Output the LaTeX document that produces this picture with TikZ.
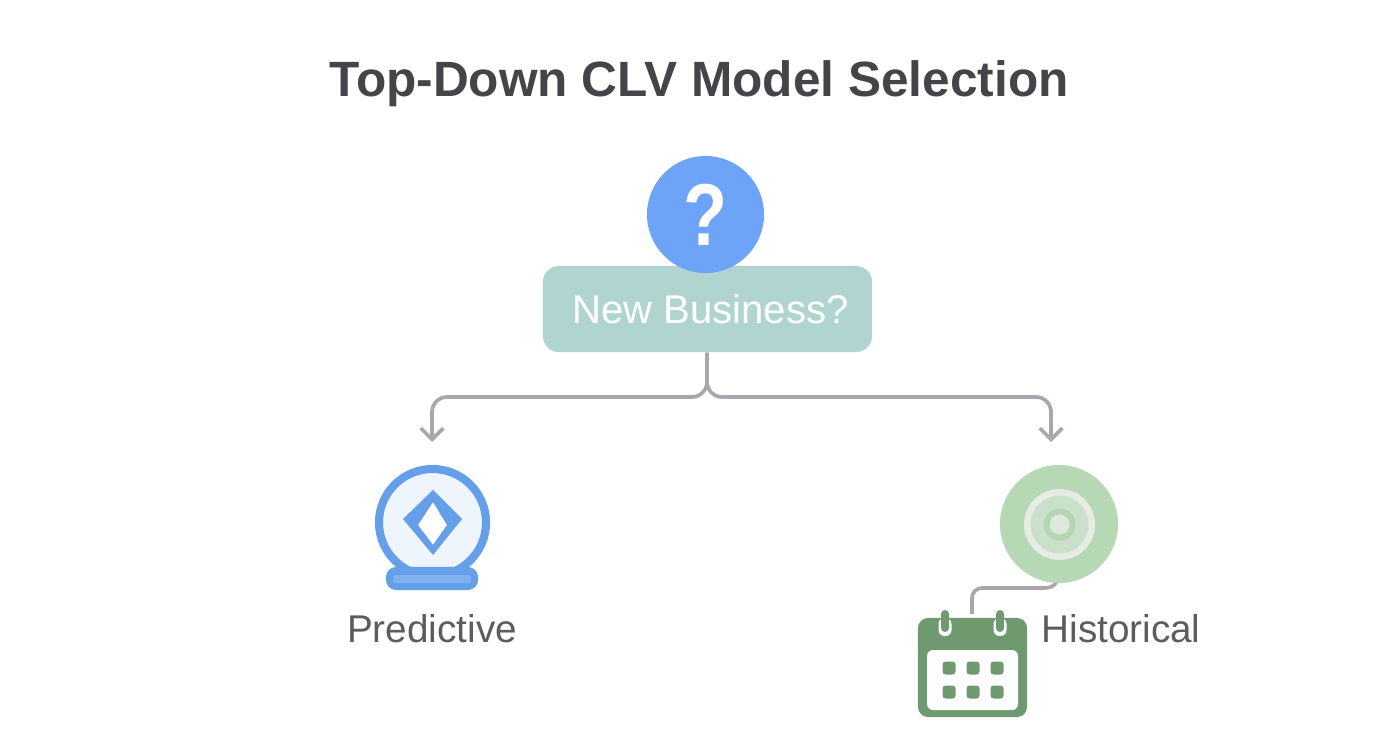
\documentclass[tikz,border=0pt]{standalone}
\usepackage{fontspec}
\setmainfont{Liberation Sans}
\usetikzlibrary{arrows.meta}
\definecolor{bluefill}{HTML}{6EA4F7}
\definecolor{blueicon}{HTML}{659FEA}
\definecolor{bluestrip}{HTML}{7FB0F0}
\definecolor{bluepale}{HTML}{EEF5FC}
\definecolor{tealbox}{HTML}{B0D4CF}
\definecolor{linegray}{HTML}{A9A6AE}
\definecolor{titlegray}{HTML}{434548}
\definecolor{labelgray}{HTML}{5F5A5B}
\definecolor{greendisc}{HTML}{B7D8B5}
\definecolor{greendark}{HTML}{6F9A70}
\definecolor{greenrim}{HTML}{E4ECE3}
\definecolor{greenface}{HTML}{CBE0CA}
\definecolor{greenhub}{HTML}{B5D4B3}
\definecolor{greeneye}{HTML}{DDE8DE}
\tikzset{
  branch/.style={linegray, line width=1.05pt, rounded corners=1.5mm},
  branchtip/.style={branch, -{Straight Barb[length=3.2pt,width=6.4pt,line width=1.05pt]}},
  dayspot/.style={fill=greendark, rounded corners=0.3mm},
  modellabel/.style={text=labelgray, font=\fontsize{11}{12}\selectfont}
}
\begin{document}
\begin{tikzpicture}[x=0.01cm,y=-0.01cm]
\useasboundingbox (0,0) rectangle (1392,752);
\node[text=titlegray, font=\fontsize{14.1}{18}\selectfont\bfseries] (title) at (699,84) {Top-Down CLV Model Selection};

% question
\node[fill=tealbox, rounded corners=1.6mm, minimum width=3.29cm, minimum height=0.86cm, inner sep=0pt, text=white, font=\fontsize{11.4}{14}\selectfont] (newbiz) at (707.5,309) {\kern0.6mm New Business?};
\node[circle, fill=bluefill, minimum size=1.17cm, inner sep=0pt, text=white, font=\fontsize{25}{28}\selectfont\bfseries] (quest) at (705.5,214.5) {\scalebox{0.82}[1]{?}};

% branches
\coordinate (forkl) at (707,397);
\coordinate (forkc) at (432,397);
\coordinate (endl) at (432,442);
\coordinate (forkd) at (1051,397);
\coordinate (endr) at (1051,442);
\draw[branchtip] (newbiz.south -| forkl) -- (forkl) -- (forkc) -- (endl);
\draw[branchtip] (newbiz.south -| forkl) -- (forkl) -- (forkd) -- (endr);

% predictive icon
\node[circle, draw=blueicon, fill=bluepale, line width=2.3pt, minimum size=1.07cm, inner sep=0pt] (globe) at (432.5,522.5) {};
\fill[blueicon, even odd rule] (433,490) -- (462,519) -- (433,555) -- (403,519) -- cycle
  (433,502) -- (447,525) -- (433,545) -- (418,525) -- cycle;
\fill[white] (433,503) -- (446.5,525) -- (433,544) -- (418.5,525) -- cycle;
\node[fill=blueicon, rounded corners=1mm, minimum width=0.92cm, minimum height=0.23cm, inner sep=0pt] (stand) at (432,578.5) {};
\fill[bluestrip, rounded corners=0.2mm] (393,575) rectangle (471,583);
\node[modellabel] (predictive) at (432,629) {Predictive};

% historical icon
\coordinate (tap) at (1057,581);
\coordinate (bend) at (972,588);
\coordinate (drop) at (972,614);
\draw[linegray, line width=1.05pt] (tap) .. controls (1054,587) and (1050,588) .. (1042,588) [rounded corners=1mm] -- (bend) -- (drop);
\node[circle, fill=greendisc, minimum size=1.18cm, inner sep=0pt] (disc) at (1059,524) {};
\fill[greenrim] (1059.5,524.5) circle (35.5);
\fill[greenface] (1059.5,524.5) circle (29);
\fill[greenhub] (1059.5,524.5) circle (16);
\fill[greeneye] (1059.5,524.5) circle (10);
\node[fill=greendark, rounded corners=1mm, minimum width=1.09cm, minimum height=0.99cm, inner sep=0pt] (calendar) at (972.5,667.5) {};
\fill[white, rounded corners=0.6mm] (927,650) rectangle (1018,710);
\foreach \x in {945,1000} {
  \fill[white, rounded corners=0.6mm] (\x-6.5,618) rectangle (\x+6.5,636);
  \fill[greendark, rounded corners=0.4mm] (\x-4,610) rectangle (\x+4,632);
}
\foreach \x in {949,973,997}
  \foreach \y in {668,692}
    \fill[dayspot] (\x-6.5,\y-6.5) rectangle (\x+6.5,\y+6.5);
\node[modellabel] (historical) at (1121,629) {Historical};
\end{tikzpicture}
\end{document}
